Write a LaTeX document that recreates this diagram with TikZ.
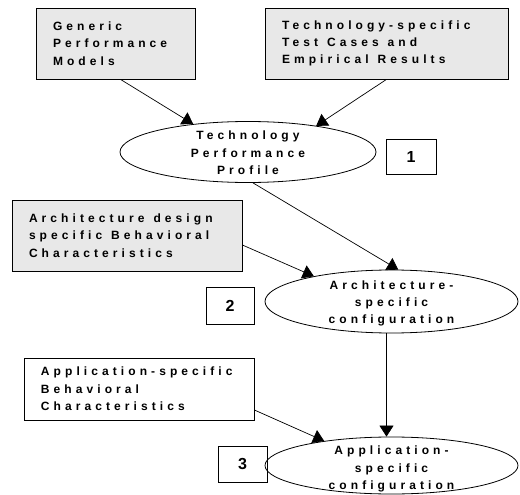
\documentclass[tikz,border=0pt]{standalone}
\usepackage{fontspec}
\setmainfont{Liberation Sans}
\newfontfamily\spacedfont{Liberation Sans Bold}[LetterSpace=34]
\newfontfamily\numfont{Liberation Sans Bold}
\newcommand{\ws}{\hspace*{9pt}}
\usetikzlibrary{arrows.meta,shapes.geometric}
\definecolor{boxgray}{HTML}{E8E8E8}
\begin{document}
\begin{tikzpicture}[x=1pt,y=-1pt,
  txt/.style={font={\spacedfont\fontsize{12}{17.3}\selectfont}},
  srcbox/.style={txt,draw,line width=0.8pt,fill=boxgray,align=left,inner xsep=17pt,inner ysep=0pt},
  whitebox/.style={srcbox,fill=white},
  ellbox/.style={draw,ellipse,line width=0.8pt,inner sep=0pt},
  elltext/.style={txt,align=center,inner sep=0pt},
  numbox/.style={draw,line width=0.8pt,inner sep=0pt,font={\numfont\fontsize{16}{18}\selectfont}},
  arr/.style={line width=0.7pt,-{Triangle[length=11pt,width=14pt]}}]
\useasboundingbox (0,0) rectangle (520,495);
% sources
\node[srcbox,text width=125pt,minimum height=71pt] (b1) at (115.5,43.5)
  {Generic\\Performance\\Models};
\node[srcbox,text width=209pt,minimum height=71pt] (b2) at (386.5,43.5)
  {Technology-specific\\Test\ws Cases\ws and\\Empirical\ws Results};
% ellipse 1
\node[ellbox,minimum width=256pt,minimum height=61pt] (e1) at (248,152) {};
\node[elltext] (e1t) at (248,153) {Technology\\Performance\\Profile};
\node[numbox,minimum width=50pt,minimum height=35pt] (n1) at (411,156.5) {1};
% architecture
\node[srcbox,text width=196pt,minimum height=71pt] (b3) at (127,235.5)
  {Architecture\ws design\\specific\ws Behavioral\\Characteristics};
\node[ellbox,minimum width=253pt,minimum height=63pt] (e2) at (391.5,301.5) {};
\node[elltext] (e2t) at (391.5,303.5) {Architecture-\\specific\\configuration};
\node[numbox,minimum width=48pt,minimum height=37pt] (n2) at (230,305.5) {2};
% application
\node[whitebox,text width=196pt,minimum height=62pt] (b4) at (139,389)
  {Application-specific\\Behavioral\\Characteristics};
\node[ellbox,minimum width=253pt,minimum height=57pt] (e3) at (391.5,465.5) {};
\node[elltext] (e3t) at (391.5,469) {Application-\\specific\\configuration};
\node[numbox,minimum width=49pt,minimum height=36pt] (n3) at (242.5,464) {3};
% connectors
\draw[arr] ([xshift=5pt]b1.south) -- (e1.153.4);
\draw[arr] (b2.south) -- (e1.21);
\draw[arr] ([xshift=5pt]e1.south) -- (e2.78);
\draw[arr] ([yshift=-9.5pt]b3.east) -- (e2.162.5);
\draw[arr] ([xshift=-5pt]e2.south) -- ([xshift=-5pt]e3.north);
\draw[arr] ([yshift=-21pt]b4.east) -- (e3.160);
\end{tikzpicture}
\end{document}
